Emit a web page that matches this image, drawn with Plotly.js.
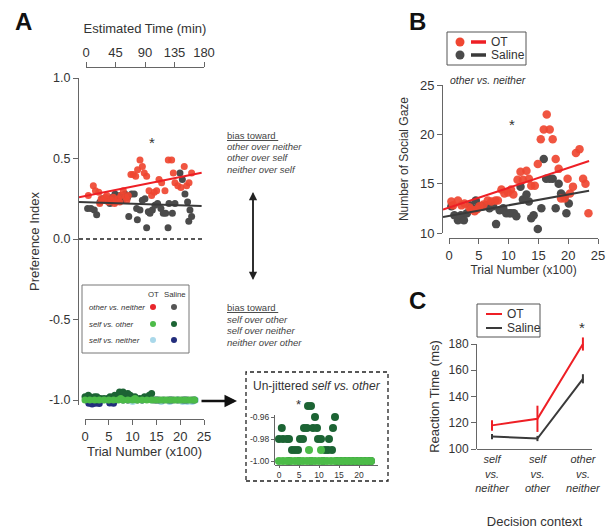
<!DOCTYPE html>
<html><head><meta charset="utf-8">
<script src="https://cdn.plot.ly/plotly-3.0.1.min.js"></script>
<style>html,body{margin:0;padding:0;background:#fff;}#chart{width:607px;height:529px;}</style>
</head><body><div id="chart"></div>
<script>
// ---------- Panel A: preference index, other vs. neither ----------
const otA_x = [0.7,1.75,2.2,2.9,3.1,3.4,3.85,4.3,4.6,4.9,5.5,5.95,6.2,6.45,7.0,7.3,7.55,8.05,8.55,8.8,9.1,9.65,10.15,10.65,11.05,11.55,12.05,12.45,12.95,13.45,14.0,14.55,15.05,15.55,16.1,16.8,17.5,18.2,18.55,18.9,19.5,20.15,20.85,21.35,21.85,22.4];
const otA_y = [0.27,0.33,0.30,0.29,0.22,0.25,0.24,0.26,0.27,0.23,0.24,0.26,0.22,0.23,0.25,0.23,0.27,0.30,0.26,0.24,0.27,0.40,0.40,0.39,0.43,0.49,0.45,0.41,0.39,0.30,0.27,0.29,0.30,0.37,0.35,0.30,0.49,0.49,0.41,0.35,0.33,0.32,0.45,0.33,0.35,0.41];
const salA_x = [0.55,1.25,1.95,2.45,3.15,3.65,4.2,4.75,5.25,5.75,6.3,6.85,7.35,7.85,8.4,8.95,9.2,9.8,10.35,10.85,11.0,11.55,12.05,12.6,12.95,13.3,13.65,14.15,14.7,15.25,15.95,16.45,16.95,17.45,17.65,18.35,18.9,19.95,20.45,21.0,21.55,21.8,22.05,22.4];
const salA_y = [0.19,0.19,0.18,0.15,0.23,0.25,0.24,0.25,0.22,0.26,0.28,0.25,0.27,0.24,0.28,0.26,0.14,0.28,0.28,0.19,0.12,0.18,0.24,0.25,0.07,0.17,0.16,0.18,0.21,0.22,0.19,0.16,0.16,0.07,0.22,0.16,0.22,0.41,0.37,0.28,0.23,0.11,0.18,0.14];
// regression lines [intercept, slope] and x extent
const fitA_OT = [0.2665, 0.00594];
const fitA_Sal = [0.2288, -0.00097];
const fitA_xspan = [-1.26, 24.5];
// self vs. other (un-jittered values, also shown in the strip near -1.0)
const svoSal_x = [0,0.7,1,2,2.5,2.5,3.25,4,4.75,5,5.25,6,6.25,7,7.25,8,8,8.5,9,9.5,9.75,10.5,11,11.5,12.25,12.5,13.25,13.5,14,14.5,15.5,16.5,17.5,18.5,19.5,20.5,21.5,22.5,23];
const svoSal_y = [-0.98,-0.97,-0.98,-0.98,-0.98,-1,-0.99,-0.99,-0.99,-1,-0.98,-0.98,-0.97,-0.97,-0.95,-0.95,-1,-0.97,-0.96,-0.97,-0.98,-0.98,-1,-0.99,-0.99,-0.98,-0.99,-0.97,-0.96,-1,-1,-1,-1,-1,-1,-1,-1,-1,-1];
const svoOT_x = [0,1,2,3,4,5,6,7,8,9,10,11,12,13,14,15,16,17,18,19,20,21,22,23,7.5,10.5];
const svoOT_y = [-1,-1,-1,-1,-1,-1,-1,-1,-1,-1,-1,-1,-1,-1,-1,-1,-1,-1,-1,-1,-1,-1,-1,-1,-0.99,-0.99];
// self vs. neither (as drawn in the jittered strip)
const svnOT_x = [0.5,2,4,6,8,10,12,14,16,17.8,19.5,20.5,21.5,22.5,23.2];
const svnOT_y = [-1.0,-1.01,-1.0,-1.0,-1.0,-1.01,-1.0,-1.0,-1.01,-1.01,-1.0,-1.01,-1.01,-1.01,-1.0];
const svnSal_x = [0.8,1.5,2.2,3.0,5.2,6.0,9,12,15,18,21];
const svnSal_y = [-1.02,-1.025,-1.02,-1.022,-1.018,-1.02,-1.0,-1.0,-1.0,-1.0,-1.0];
const prefTicks = [-1,-0.5,0,0.5,1];
const prefTickText = ['-1.0','-0.5','0.0','0.5','1.0'];
const timeTicks = [0,45,90,135,180];
const trialTicks = [0,5,10,15,20,25];
const insetXTicks = [0,5,10,15,20];
const insetYTicks = [-1,-0.98,-0.96];
const insetYTickText = ['-1.00','-0.98','-0.96'];

// ---------- Panel B: number of social gaze ----------
const otB_x = [0.4,0.7,1.5,2.1,2.6,3.4,3.7,4.3,4.7,5.1,5.8,6.5,7.1,7.8,8.2,8.8,9.3,9.9,10.4,10.8,11.5,12.0,12.4,13.0,13.4,13.8,14.4,14.9,15.4,15.9,16.4,16.9,17.4,17.9,18.4,18.8,19.4,19.9,20.3,20.8,21.3,21.9,22.5,22.9,23.4];
const otB_y = [13.2,12.8,13.3,12.8,13.0,12.6,12.4,12.2,12.4,12.7,12.9,13.3,13.2,13.3,13.3,14.4,14.0,14.1,14.4,13.9,15.4,16.2,15.4,16.3,15.5,14.8,14.8,17.0,19.5,20.5,22.0,20.5,19.5,17.5,16.5,13.5,13.5,15.5,14.0,14.7,18.1,18.5,15.5,15.0,12.0];
const salB_x = [0.4,0.9,1.5,2.0,2.5,3.0,3.5,4.0,4.5,5.0,5.7,6.3,6.8,7.4,7.9,8.5,9.1,9.6,10.1,10.4,10.9,11.3,12.0,12.4,13.0,13.4,13.8,14.2,14.9,15.5,15.9,16.3,16.9,17.4,17.9,18.4,18.8,19.4,19.7,20.1];
const salB_y = [12.7,11.8,11.3,11.8,11.3,12.0,12.8,12.5,13.3,12.7,12.7,12.8,12.5,12.7,10.9,12.3,12.5,12.0,12.0,12.0,12.0,11.7,14.7,13.4,13.9,13.2,11.5,11.8,10.4,12.5,17.5,15.5,15.5,15.5,12.5,15.0,14.0,13.7,12.0,13.0];
const fitB_OT = [12.57, 0.201];
const fitB_Sal = [11.72, 0.109];
const fitB_xspan = [-1.0, 23.5];
const gazeTicks = [10,15,20,25];

// ---------- Panel C: reaction time ----------
const rtCats = ['self vs. neither','self vs. other','other vs. neither'];
const rtLabels = ['<i>self<br>vs.<br>neither</i>','<i>self<br>vs.<br>other</i>','<i>other<br>vs.<br>neither</i>'];
const rtOT = [118, 123, 180];
const rtOTerr = [4, 10, 5];
const rtSal = [109.5, 108, 153.5];
const rtSalErr = [2, 2, 3.5];
const rtTicks = [100,120,140,160,180];

// ---------- styling ----------
const FONT = 'Liberation Sans, Arial, Helvetica, sans-serif';
const TXT = '#333';
const AXC = '#666';
const RED_DOT = '#ef4631', RED_LINE = '#ee1f25';
const GRAY_DOT = '#4b4b4b', GRAY_LINE = '#3a3a3a';
const LGREEN = '#4cbb48', DGREEN = '#1c6434', LBLUE = '#a9d8ea', NAVY = '#232d7c';
const W = 607, H = 529;
const fx = p => p / W, fy = p => 1 - p / H;

function fitLine(fit, span){ return {x: span, y: span.map(v => fit[0] + fit[1]*v)}; }
// empty trace that only registers an axis pair so that the axis is drawn
function axisHolder(xa, ya){ return {type:'scatter', mode:'markers', x:[null], y:[null], xaxis:xa, yaxis:ya, hoverinfo:'skip', showlegend:false}; }

function tickAxis(o){
  return Object.assign({showline:true, linecolor:AXC, linewidth:1, ticks:'outside', ticklen:5, tickwidth:1,
    tickcolor:AXC, showgrid:false, zeroline:false, fixedrange:true,
    tickfont:{family:FONT,size:13,color:TXT}}, o);
}
function hidden(o){ return Object.assign({visible:false, showgrid:false, zeroline:false, fixedrange:true}, o); }
function T(text, x, y, size, extra){
  return Object.assign({xref:'paper', yref:'paper', x:fx(x), y:fy(y), text:text, showarrow:false,
    font:{family:FONT, size:size, color:TXT}, xanchor:'center', yanchor:'middle'}, extra||{});
}

const fa1 = fitLine(fitA_OT, fitA_xspan), fa2 = fitLine(fitA_Sal, fitA_xspan);
const fb1 = fitLine(fitB_OT, fitB_xspan), fb2 = fitLine(fitB_Sal, fitB_xspan);

const traces = [
  axisHolder('x2','y2'), axisHolder('x3','y3'), axisHolder('x5','y4'), axisHolder('x4','y5'),
  axisHolder('x6','y7'), axisHolder('x8','y9'),
  // Panel A strip (self vs. neither / self vs. other)
  {type:'scatter', mode:'markers', x:svnOT_x, y:svnOT_y, xaxis:'x', yaxis:'y', marker:{size:7, color:LBLUE}, cliponaxis:false},
  {type:'scatter', mode:'markers', x:svnSal_x, y:svnSal_y, xaxis:'x', yaxis:'y', marker:{size:7, color:NAVY}, cliponaxis:false},
  {type:'scatter', mode:'markers', x:svoSal_x, y:svoSal_y, xaxis:'x', yaxis:'y', marker:{size:7, color:DGREEN}, cliponaxis:false},
  {type:'scatter', mode:'markers', x:svoOT_x, y:svoOT_y, xaxis:'x', yaxis:'y', marker:{size:7, color:LGREEN}, cliponaxis:false},
  // Panel A other vs. neither
  {type:'scatter', mode:'markers', x:salA_x, y:salA_y, xaxis:'x', yaxis:'y', marker:{size:7, color:GRAY_DOT}},
  {type:'scatter', mode:'markers', x:otA_x, y:otA_y, xaxis:'x', yaxis:'y', marker:{size:7, color:RED_DOT, opacity:0.92}},
  {type:'scatter', mode:'lines', x:fa2.x, y:fa2.y, xaxis:'x', yaxis:'y', line:{color:GRAY_LINE, width:2}},
  {type:'scatter', mode:'lines', x:fa1.x, y:fa1.y, xaxis:'x', yaxis:'y', line:{color:RED_LINE, width:2}},
  // Inset: un-jittered self vs. other
  {type:'scatter', mode:'markers', x:svoSal_x, y:svoSal_y, xaxis:'x8', yaxis:'y8', marker:{size:8, color:DGREEN}, cliponaxis:false},
  {type:'scatter', mode:'markers', x:svoOT_x, y:svoOT_y, xaxis:'x8', yaxis:'y8', marker:{size:8, color:LGREEN}, cliponaxis:false},
  // Panel B
  {type:'scatter', mode:'markers', x:salB_x, y:salB_y, xaxis:'x4', yaxis:'y4', marker:{size:8.5, color:GRAY_DOT}},
  {type:'scatter', mode:'markers', x:otB_x, y:otB_y, xaxis:'x4', yaxis:'y4', marker:{size:8.5, color:RED_DOT, opacity:0.92}},
  {type:'scatter', mode:'lines', x:fb2.x, y:fb2.y, xaxis:'x4', yaxis:'y4', line:{color:GRAY_LINE, width:2}},
  {type:'scatter', mode:'lines', x:fb1.x, y:fb1.y, xaxis:'x4', yaxis:'y4', line:{color:RED_LINE, width:2}},
  // Panel C
  {type:'scatter', mode:'lines', x:rtCats, y:rtSal, xaxis:'x6', yaxis:'y6', line:{color:GRAY_LINE, width:2},
    error_y:{type:'data', array:rtSalErr, visible:true, thickness:2, width:0, color:GRAY_LINE}, cliponaxis:false},
  {type:'scatter', mode:'lines', x:rtCats, y:rtOT, xaxis:'x6', yaxis:'y6', line:{color:RED_LINE, width:2},
    error_y:{type:'data', array:rtOTerr, visible:true, thickness:2, width:0, color:RED_LINE}, cliponaxis:false}
];

const layout = {
  width:W, height:H, margin:{l:0,r:0,t:0,b:0}, showlegend:false,
  paper_bgcolor:'#fff', plot_bgcolor:'rgba(0,0,0,0)',
  font:{family:FONT, color:TXT, size:12},
  // Panel A
  xaxis: hidden({domain:[fx(79),fx(204)], range:[-1.26,25], anchor:'y'}),
  yaxis: tickAxis({domain:[fy(405),fy(78)], range:[-1.031,1.0], anchor:'x', tickvals:prefTicks, ticktext:prefTickText,
    tickfont:{family:FONT,size:12.5,color:TXT}, title:{text:'Preference Index', font:{family:FONT,size:13,color:TXT}, standoff:6}}),
  xaxis2: tickAxis({domain:[fx(86),fx(204)], range:[0,180], anchor:'y2', side:'top', tickvals:timeTicks,
    title:{text:'Estimated Time (min)', font:{family:FONT,size:13,color:TXT}, standoff:8}}),
  yaxis2: hidden({domain:[fy(78),fy(68)], range:[0,1], anchor:'x2'}),
  xaxis3: tickAxis({domain:[fx(85),fx(204)], range:[0,25], anchor:'y3', tickvals:trialTicks,
    title:{text:'Trial Number (x100)', font:{family:FONT,size:13,color:TXT}, standoff:3}}),
  yaxis3: hidden({domain:[fy(419),fy(413)], range:[0,1], anchor:'x3'}),
  // Panel B
  xaxis4: hidden({domain:[fx(443),fx(598)], range:[-1.007,25], anchor:'y4'}),
  yaxis4: hidden({domain:[fy(238),fy(85)], range:[9.493,25], anchor:'x4'}),
  xaxis5: tickAxis({domain:[fx(449),fx(598)], range:[0,25], anchor:'y4', tickvals:trialTicks,
    title:{text:'Trial Number (x100)', font:{family:FONT,size:12,color:TXT}, standoff:3}}),
  yaxis5: tickAxis({domain:[fy(233),fy(85)], range:[10,25], anchor:'x4', tickvals:gazeTicks,
    title:{text:'Number of Social Gaze', font:{family:FONT,size:12,color:TXT}, standoff:8}}),
  // Panel C
  xaxis6: {domain:[fx(477),fx(592)], type:'category', range:[-0.33,2.2], anchor:'y6', showline:true, linecolor:AXC,
    ticks:'', showgrid:false, zeroline:false, fixedrange:true, tickvals:rtCats, ticktext:rtLabels,
    tickfont:{family:FONT,size:11,color:TXT}, title:{text:'Decision context', font:{family:FONT,size:13,color:TXT}, standoff:24}},
  yaxis6: hidden({domain:[fy(449),fy(330)], range:[100,190.67], anchor:'x6'}),
  yaxis7: tickAxis({domain:[fy(449),fy(344)], range:[100,180], anchor:'x6', tickvals:rtTicks,
    tickfont:{family:FONT,size:12,color:TXT}, title:{text:'Reaction Time (ms)', font:{family:FONT,size:13,color:TXT}, standoff:6}}),
  // Inset
  xaxis8: tickAxis({domain:[fx(275),fx(378)], range:[-1,24.75], anchor:'y8', tickvals:insetXTicks, ticklen:2,
    tickfont:{family:FONT,size:8.5,color:TXT}}),
  yaxis8: hidden({domain:[fy(465),fy(400)], range:[-1.00364,-0.94455], anchor:'x8'}),
  yaxis9: tickAxis({domain:[fy(465),fy(415)], range:[-1.00364,-0.95818], anchor:'x8', tickvals:insetYTicks,
    ticktext:insetYTickText, ticklen:3, tickfont:{family:FONT,size:8.5,color:TXT}}),
  shapes: [
    {type:'line', xref:'x domain', x0:0, x1:1, yref:'y', y0:0, y1:0, line:{color:'#222', width:1.3, dash:'4px,3px'}},
    // A legend box
    {type:'rect', xref:'paper', yref:'paper', x0:fx(82), x1:fx(189), y0:fy(353), y1:fy(285), line:{color:'#777', width:1}},
    {type:'circle', xref:'paper', yref:'paper', x0:fx(150), x1:fx(156), y0:fy(310), y1:fy(304), fillcolor:'#e8262b', line:{width:0}},
    {type:'circle', xref:'paper', yref:'paper', x0:fx(171), x1:fx(177), y0:fy(310), y1:fy(304), fillcolor:'#555', line:{width:0}},
    {type:'circle', xref:'paper', yref:'paper', x0:fx(150), x1:fx(156), y0:fy(327), y1:fy(321), fillcolor:LGREEN, line:{width:0}},
    {type:'circle', xref:'paper', yref:'paper', x0:fx(171), x1:fx(177), y0:fy(327), y1:fy(321), fillcolor:DGREEN, line:{width:0}},
    {type:'circle', xref:'paper', yref:'paper', x0:fx(150), x1:fx(156), y0:fy(343), y1:fy(337), fillcolor:LBLUE, line:{width:0}},
    {type:'circle', xref:'paper', yref:'paper', x0:fx(171), x1:fx(177), y0:fy(343), y1:fy(337), fillcolor:NAVY, line:{width:0}},
    // inset dashed box
    {type:'rect', xref:'paper', yref:'paper', x0:fx(246), x1:fx(388), y0:fy(481), y1:fy(372), line:{color:'#222', width:1.3, dash:'4px,3px'}},
    // B legend
    {type:'rect', xref:'paper', yref:'paper', x0:fx(447), x1:fx(526), y0:fy(65), y1:fy(32), line:{color:'#555', width:1}},
    {type:'circle', xref:'paper', yref:'paper', x0:fx(455.5), x1:fx(464.5), y0:fy(46.5), y1:fy(37.5), fillcolor:RED_DOT, line:{width:0}},
    {type:'circle', xref:'paper', yref:'paper', x0:fx(455.5), x1:fx(464.5), y0:fy(59.5), y1:fy(50.5), fillcolor:GRAY_DOT, line:{width:0}},
    {type:'line', xref:'paper', yref:'paper', x0:fx(471), x1:fx(486), y0:fy(42), y1:fy(42), line:{color:RED_LINE, width:3.5}},
    {type:'line', xref:'paper', yref:'paper', x0:fx(471), x1:fx(486), y0:fy(55), y1:fy(55), line:{color:GRAY_LINE, width:3.5}},
    // C legend
    {type:'rect', xref:'paper', yref:'paper', x0:fx(477), x1:fx(540), y0:fy(337), y1:fy(304), line:{color:'#555', width:1}},
    {type:'line', xref:'paper', yref:'paper', x0:fx(486), x1:fx(502), y0:fy(314), y1:fy(314), line:{color:RED_LINE, width:2}},
    {type:'line', xref:'paper', yref:'paper', x0:fx(486), x1:fx(502), y0:fy(328), y1:fy(328), line:{color:GRAY_LINE, width:2}}
  ],
  annotations: [
    T('<b>A</b>', 24, 21, 24, {font:{family:FONT,size:24,color:'#111'}}),
    T('<b>B</b>', 417, 21, 24, {font:{family:FONT,size:24,color:'#111'}}),
    T('<b>C</b>', 417, 300, 24, {font:{family:FONT,size:24,color:'#111'}}),
    T('*', 152, 142, 15),
    T('*', 512, 124, 15),
    T('*', 582, 327, 15),
    T('*', 298, 404, 13),
    T('<u>bias toward </u>', 225, 135, 9.5, {xanchor:'left', font:{family:FONT,size:9.5,color:'#444'}}),
    T('<i>other over neither</i>', 225, 146.5, 9.5, {xanchor:'left', font:{family:FONT,size:9.5,color:'#444'}}),
    T('<i>other over self</i>', 225, 158, 9.5, {xanchor:'left', font:{family:FONT,size:9.5,color:'#444'}}),
    T('<i>neither over self</i>', 225, 169.5, 9.5, {xanchor:'left', font:{family:FONT,size:9.5,color:'#444'}}),
    T('<u>bias toward </u>', 225, 307, 9.5, {xanchor:'left', font:{family:FONT,size:9.5,color:'#444'}}),
    T('<i>self over other</i>', 225, 319, 9.5, {xanchor:'left', font:{family:FONT,size:9.5,color:'#444'}}),
    T('<i>self over neither</i>', 225, 330.5, 9.5, {xanchor:'left', font:{family:FONT,size:9.5,color:'#444'}}),
    T('<i>neither over other</i>', 225, 342, 9.5, {xanchor:'left', font:{family:FONT,size:9.5,color:'#444'}}),
    // double arrow
    {xref:'paper', yref:'paper', x:fx(253), y:fy(192), ax:0, ay:88, text:'', showarrow:true, arrowhead:2, arrowsize:1.1, arrowwidth:1.5, arrowcolor:'#222'},
    {xref:'paper', yref:'paper', x:fx(253), y:fy(280), ax:0, ay:-88, text:'', showarrow:true, arrowhead:2, arrowsize:1.1, arrowwidth:1.5, arrowcolor:'#222'},
    // arrow to inset
    {xref:'paper', yref:'paper', x:fx(237), y:fy(401), ax:-37, ay:0, text:'', showarrow:true, arrowhead:2, arrowsize:1, arrowwidth:2.5, arrowcolor:'#111'},
    // A legend text
    T('OT', 153, 294, 7.8),
    T('Saline', 175, 294, 7.8),
    T('<i>other vs. neither</i>', 87, 307, 7.8, {xanchor:'left'}),
    T('<i>self vs. other</i>', 87, 324, 7.8, {xanchor:'left'}),
    T('<i>self vs. neither</i>', 87, 340, 7.8, {xanchor:'left'}),
    // inset title
    T('Un-jittered <i>self vs. other</i>', 317, 386, 12),
    // B legend text & subtitle
    T('OT', 489, 42, 12, {xanchor:'left'}),
    T('Saline', 489, 55, 12, {xanchor:'left'}),
    T('<i>other vs. neither</i>', 488, 80, 10.5),
    // C legend text
    T('OT', 505, 314, 12, {xanchor:'left'}),
    T('Saline', 505, 328, 12, {xanchor:'left'})
  ]
};

Plotly.newPlot('chart', traces, layout, {staticPlot:true, displayModeBar:false});
</script></body></html>
